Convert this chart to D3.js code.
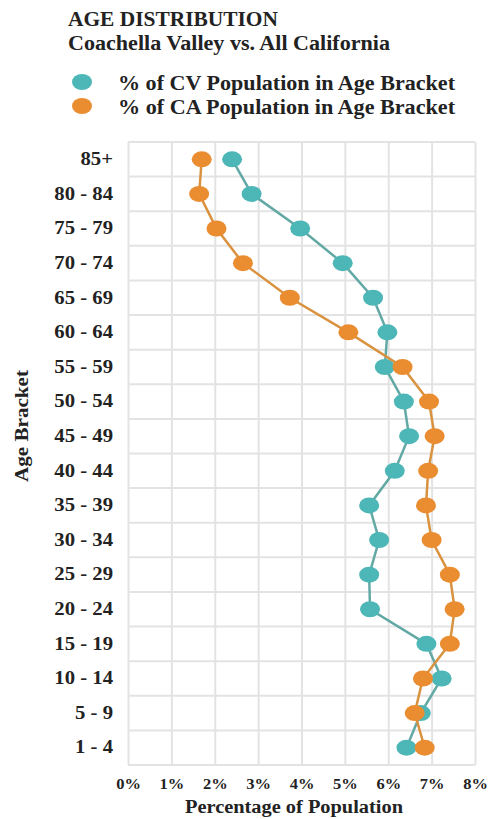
<!DOCTYPE html>
<html>
<head>
<meta charset="utf-8">
<script src="https://cdn.jsdelivr.net/npm/d3@7"></script>
<style>
  body { margin: 0; background: #fff; }
  text { font-family: "Liberation Serif", "DejaVu Serif", serif; font-weight: bold; fill: #222; }
</style>
</head>
<body>
<svg id="chart" width="492" height="819"></svg>
<script>
const brackets = ['85+', '80 - 84', '75 - 79', '70 - 74', '65 - 69', '60 - 64', '55 - 59', '50 - 54',
  '45 - 49', '40 - 44', '35 - 39', '30 - 34', '25 - 29', '20 - 24', '15 - 19', '10 - 14', '5 - 9', '1 - 4']
const cvValues = [2.4, 2.85, 3.97, 4.95, 5.65, 5.98, 5.92, 6.36, 6.48, 6.15, 5.56, 5.79, 5.56, 5.58, 6.88, 7.23, 6.75, 6.42]
const caValues = [1.7, 1.64, 2.04, 2.65, 3.73, 5.08, 6.33, 6.94, 7.07, 6.92, 6.87, 7.0, 7.42, 7.53, 7.42, 6.8, 6.61, 6.84]
const xTicks = [0, 1, 2, 3, 4, 5, 6, 7, 8]
const seriesNames = ['% of CV Population in Age Bracket', '% of CA Population in Age Bracket']

const svg = d3.select('#chart')
let margin = {top: 142, left: 128, right: 17, bottom: 54},
    width = 492 - margin.left - margin.right,
    height = 819 - margin.top - margin.bottom

const colors = {cv: '#4db6b6', ca: '#ea8c30', cvLine: '#62a8a5', caLine: '#d9923f'}

// the scanned text is a bit wider than plain Times, so stretch it
const stretch = (sel, f) => sel.each(function() {
  const len = this.getComputedTextLength()
  d3.select(this).attr('textLength', len * f).attr('lengthAdjust', 'spacingAndGlyphs')
})

const xScale = d3.scaleLinear().domain([0, 8]).range([0, width])
const yScale = d3.scaleBand().domain(brackets).range([0, height])

const group = svg.append('g')
  .attr('transform', `translate(${margin.left}, ${margin.top})`)

// horizontal grid at band edges
const edges = brackets.map(b => yScale(b)).concat([height])
group.selectAll('.hgrid').data(edges).enter().append('line')
  .attr('x1', 0).attr('x2', width)
  .attr('y1', d => d).attr('y2', d => d)
  .attr('stroke', '#e3e3e3').attr('stroke-width', 2)

// vertical grid + tick labels
const xAxis = group.append('g')
  .attr('transform', `translate(0, ${height})`)
  .call(d3.axisBottom(xScale).tickValues(xTicks).tickSize(-height).tickPadding(13).tickFormat(d => d + '%'))
xAxis.select('.domain').remove()
xAxis.selectAll('line').attr('stroke', '#e3e3e3').attr('stroke-width', 2)
xAxis.selectAll('text').attr('font-size', 15).attr('fill', '#333')
  .style('font-family', '"Liberation Serif", serif').style('font-weight', 'bold')
stretch(xAxis.selectAll('text'), 1.1)

// y labels
const yAxis = group.append('g')
  .call(d3.axisLeft(yScale).tickSize(0).tickPadding(15))
yAxis.select('.domain').remove()
yAxis.selectAll('text').attr('font-size', 18).attr('fill', '#333')
  .style('font-family', '"Liberation Serif", serif').style('font-weight', 'bold')
stretch(yAxis.selectAll('text'), 1.15)

const cy = b => yScale(b) + yScale.bandwidth() / 2

const drawSeries = (vals, col, lineCol) => {
  const pts = brackets.map((b, i) => ({b, v: vals[i]}))
  const line = d3.line()
    .x(d => xScale(d.v))
    .y(d => cy(d.b))
  group.append('path')
    .datum(pts)
    .attr('fill', 'none')
    .attr('stroke', lineCol)
    .attr('stroke-width', 2.5)
    .attr('d', line)
  group.selectAll(null).data(pts).enter().append('ellipse')
    .attr('cx', d => xScale(d.v))
    .attr('cy', d => cy(d.b))
    .attr('rx', 10).attr('ry', 8)
    .attr('fill', col)
}
drawSeries(cvValues, colors.cv, colors.cvLine)
drawSeries(caValues, colors.ca, colors.caLine)

// titles
svg.append('text').attr('x', 68).attr('y', 26).attr('font-size', 20)
  .attr('textLength', 210).attr('lengthAdjust', 'spacingAndGlyphs').text('AGE DISTRIBUTION')
svg.append('text').attr('x', 68).attr('y', 50).attr('font-size', 20)
  .attr('textLength', 322).attr('lengthAdjust', 'spacingAndGlyphs').text('Coachella Valley vs.  All California')

// legend
const legend = svg.append('g')
seriesNames.forEach((n, i) => {
  legend.append('ellipse').attr('cx', 82).attr('cy', 82 + i * 24).attr('rx', 10).attr('ry', 8)
    .attr('fill', i === 0 ? colors.cv : colors.ca)
  legend.append('text').attr('x', 118).attr('y', 90 + i * 23.5).attr('font-size', 20)
    .attr('textLength', 337).attr('lengthAdjust', 'spacingAndGlyphs').text(n)
})

// axis titles
svg.append('text').attr('x', 294).attr('y', 813).attr('text-anchor', 'middle')
  .attr('font-size', 18).attr('textLength', 218).attr('lengthAdjust', 'spacingAndGlyphs')
  .text('Percentage of Population')
svg.append('text').attr('transform', 'translate(28, 426) rotate(-90)').attr('text-anchor', 'middle')
  .attr('font-size', 18).attr('textLength', 112).attr('lengthAdjust', 'spacingAndGlyphs')
  .text('Age Bracket')
</script>
</body>
</html>
